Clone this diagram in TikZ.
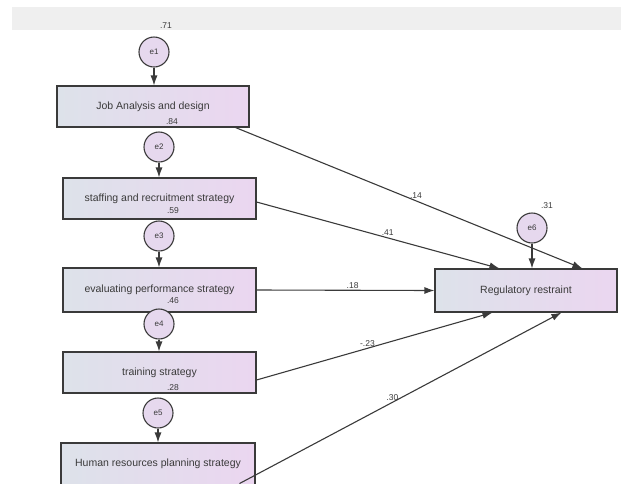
\documentclass[tikz,border=0pt]{standalone}
\usepackage{fontspec}
\setmainfont{Liberation Sans}
\usetikzlibrary{arrows.meta,calc}
\definecolor{boxL}{HTML}{DDE2EA}
\definecolor{boxR}{HTML}{EBD6F0}
\definecolor{circ}{HTML}{E6D8EE}
\definecolor{ink}{HTML}{3A3A3A}
\definecolor{band}{HTML}{EFEFEF}
\tikzset{
  obs/.style={draw=ink, line width=1.1pt, rectangle, left color=boxL, right color=boxR,
    minimum height=41pt, minimum width=193pt, inner sep=0pt, text=ink,
    font=\fontsize{10.5}{12}\selectfont},
  err/.style={draw=ink, line width=1.1pt, circle, fill=circ, minimum size=30pt, inner sep=0pt,
    text=ink, font=\fontsize{8}{9}\selectfont},
  conn/.style={draw=ink, line width=1.1pt, -{Latex[length=10pt,width=7pt]}},
  coef/.style={text=ink, font=\fontsize{8.5}{9}\selectfont, inner sep=1.5pt},
}
\begin{document}
\begin{tikzpicture}[x=1pt,y=-1pt]
\useasboundingbox (0,0) rectangle (621,483);
\fill[band] (12,7) rectangle (621,30);
% observed boxes
\node[obs, minimum width=192pt] (b1) at (153,106.5) {Job Analysis and design};
\node[obs] (b2) at (159.5,198.5) {staffing and recruitment strategy};
\node[obs, minimum height=44pt] (b3) at (159.5,290) {evaluating performance strategy};
\node[obs] (b4) at (159.5,372.5) {training strategy};
\node[obs, minimum width=194pt, minimum height=42pt] (b5) at (158,464) {Human resources planning strategy};
\node[obs, minimum width=182pt, minimum height=43pt] (r) at (526,290.5) {Regulatory restraint};
% error terms
\node[err] (e1) at (154,52) {e1};
\node[err] (e2) at (159,147) {e2};
\node[err] (e3) at (159,236) {e3};
\node[err] (e4) at (159,324) {e4};
\node[err] (e5) at (158,413) {e5};
\node[err] (e6) at (532,228) {e6};
% squared multiple correlations
\node[coef] at (166,26) {.71};
\node[coef] at (172,122) {.84};
\node[coef] at (173,211) {.59};
\node[coef] at (173,301) {.46};
\node[coef] at (173,388) {.28};
\node[coef] at (547,206) {.31};
% error arrows
\draw[conn] (e1) -- (e1 |- b1.north);
\draw[conn] (e2) -- (e2 |- b2.north);
\draw[conn] (e3) -- (e3 |- b3.north);
\draw[conn] (e4) -- (e4 |- b4.north);
\draw[conn] (e5) -- (e5 |- b5.north);
\draw[conn] (e6) -- (e6 |- r.north);
% paths
\coordinate (s1) at ($(b1.south east)+(-14,0)$);
\coordinate (t1) at ($(r.north west)+(148,0)$);
\draw[conn] (s1) -- node[coef, pos=0.52, above] {.14} (t1);
\coordinate (s2) at ($(b2.east)+(0,3.5)$);
\coordinate (t2) at ($(r.north west)+(65,0)$);
\draw[conn] (s2) -- node[coef, pos=0.54, above] {.41} (t2);
\draw[conn] (b3.east) -- node[coef, pos=0.54, above] {.18} (r.west);
\coordinate (s4) at ($(b4.east)+(0,7.5)$);
\coordinate (t4) at ($(r.south west)+(58,0)$);
\draw[conn] (s4) -- node[coef, pos=0.47, above] {-.23} (t4);
\coordinate (s5) at ($(b5.south west)+(179,-2)$);
\coordinate (t5) at ($(r.south west)+(127,0)$);
\draw[conn] (s5) -- node[coef, pos=0.475, above] {.30} (t5);
\end{tikzpicture}
\end{document}
